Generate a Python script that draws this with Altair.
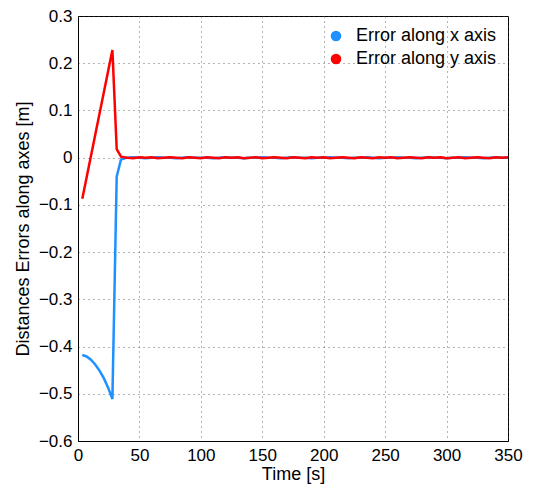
import altair as alt
import pandas as pd

# Time stamps [s]
time_s = [3.5, 7, 10.5, 14, 17.5, 21, 24.5, 28, 31.5, 35,
          40, 45, 50, 55, 60, 65, 70, 75, 80, 85, 90, 95, 100,
          105, 110, 115, 120, 125, 130, 135, 140, 145, 150,
          155, 160, 165, 170, 175, 180, 185, 190, 195, 200,
          205, 210, 215, 220, 225, 230, 235, 240, 245, 250,
          255, 260, 265, 270, 275, 280, 285, 290, 295, 300,
          305, 310, 315, 320, 325, 330, 335, 340, 345, 350]

# Error along x axis [m]
err_x = [-0.418, -0.421, -0.428, -0.438, -0.451, -0.467, -0.487, -0.511, -0.040, -0.004,
         0.000, 0.001, 0.000, -0.001, 0.000, 0.001, 0.000, 0.000, -0.001, 0.000, 0.001, 0.000, 0.000,
         0.000, -0.001, 0.000, 0.001, 0.000, 0.000, -0.001, 0.000, 0.000, 0.001,
         0.000, 0.000, -0.001, 0.000, 0.001, 0.000, 0.000, -0.001, 0.000, 0.000,
         0.001, 0.000, 0.000, -0.001, 0.000, 0.000, 0.001, 0.000, -0.001, 0.000,
         0.000, 0.001, 0.000, 0.000, -0.001, 0.000, 0.001, 0.000, 0.000, -0.001,
         0.000, 0.000, 0.001, 0.000, 0.000, -0.001, 0.000, 0.001, 0.000, 0.000]

# Error along y axis [m]
err_y = [-0.087, -0.042, 0.003, 0.048, 0.093, 0.138, 0.183, 0.228, 0.018, 0.002,
         0.000, -0.001, 0.001, 0.000, 0.001, -0.001, 0.000, 0.001, 0.000, -0.001, 0.001, 0.000, -0.001,
         0.001, 0.000, -0.001, 0.001, 0.000, 0.001, -0.001, 0.000, 0.001, -0.001,
         0.000, 0.001, 0.000, -0.001, 0.001, 0.000, -0.001, 0.001, 0.000, 0.001,
         -0.001, 0.000, 0.001, 0.000, -0.001, 0.001, 0.000, -0.001, 0.001, 0.000,
         0.001, -0.001, 0.000, 0.001, 0.000, -0.001, 0.001, 0.000, 0.001, -0.001,
         0.000, 0.001, -0.001, 0.000, 0.001, 0.000, -0.001, 0.001, 0.000, 0.001]

series_names = ["Error along x axis", "Error along y axis"]
series_colors = ["#1E90FF", "#FF0000"]
x_ticks = [0, 50, 100, 150, 200, 250, 300, 350]
y_ticks = [-0.6, -0.5, -0.4, -0.3, -0.2, -0.1, 0, 0.1, 0.2, 0.3]

rows = []
for t, v in zip(time_s, err_x):
    rows.append({"t": t, "err": v, "series": series_names[0]})
for t, v in zip(time_s, err_y):
    rows.append({"t": t, "err": v, "series": series_names[1]})
df = pd.DataFrame(rows)

FONT = "Liberation Sans"

chart = alt.Chart(df).mark_line(strokeWidth=2.5).encode(
    x=alt.X("t:Q", title="Time [s]",
            scale=alt.Scale(domain=[0, 350], nice=False, zero=False),
            axis=alt.Axis(values=x_ticks, format="d")),
    y=alt.Y("err:Q", title="Distances Errors along axes [m]",
            scale=alt.Scale(domain=[-0.6, 0.3], nice=False, zero=False),
            axis=alt.Axis(values=y_ticks, format="~g")),
    color=alt.Color("series:N",
                    scale=alt.Scale(domain=series_names, range=series_colors),
                    legend=alt.Legend(title=None, orient="none", legendX=249, legendY=11,
                                      symbolType="circle", symbolSize=25,
                                      symbolStrokeWidth=5.6, labelFontSize=18, labelFont=FONT,
                                      labelOffset=11, rowPadding=-6, padding=0,
                                      labelColor="black")),
    order=alt.Order("t:Q"),
).properties(
    width=430, height=425,
    autosize=alt.AutoSizeParams(type="none"),
    padding={"left": 70, "top": 8, "right": 17, "bottom": 56},
).configure_view(
    stroke="black", strokeWidth=1
).configure_axis(
    grid=True, gridColor="#444444", gridDash=[1, 4], gridWidth=1, gridOpacity=0.8,
    domainColor="black", domainWidth=1, ticks=False, labelFlush=False,
    labelFont=FONT, labelFontSize=17, labelColor="black", labelPadding=5,
    titleFont=FONT, titleFontSize=18, titleColor="black", titleFontWeight="normal",
).configure_axisX(
    titlePadding=2, labelPadding=6
).configure_axisY(
    titlePadding=6, labelPadding=6
)

chart.save("out.html", embed_options={"renderer": "svg", "actions": False})
